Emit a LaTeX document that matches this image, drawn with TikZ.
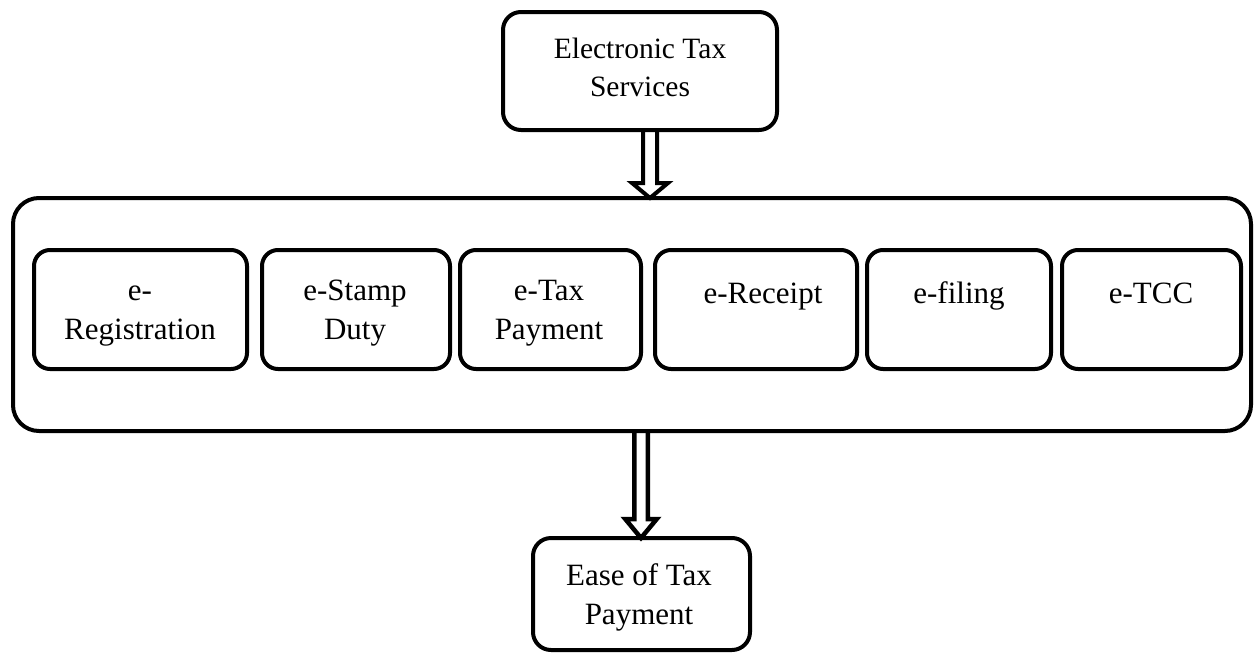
\documentclass[tikz,border=0pt]{standalone}
\usepackage{fontspec}
\setmainfont{Liberation Serif}
\usetikzlibrary{calc}
\begin{document}
\begin{tikzpicture}[x=1pt,y=-1pt,
  frame/.style={draw=black, line width=4pt, rounded corners=16pt, inner sep=0pt, outer sep=0pt},
  inbox/.style={frame, minimum height=119pt},
  txt/.style={align=center, inner sep=0pt, anchor=north, font=\fontsize{31}{39}\selectfont},
  hollow/.style={draw=black, line width=4pt, line join=miter}]
\useasboundingbox (0,0) rectangle (1254,654);

% outer container
\node[frame, rounded corners=26pt, minimum width=1238pt, minimum height=233pt] (big) at (632,314.5) {};

% top and bottom boxes
\node[frame, rounded corners=18pt, minimum width=274pt, minimum height=118pt] (top) at (640,71) {};
\node[txt, font=\fontsize{29.5}{38}\selectfont] (ttop) at (640,31.4) {\strut Electronic Tax\\Services};

\node[frame, rounded corners=18pt, minimum width=217pt, minimum height=112pt] (bot) at (641.5,594) {};
\node[txt] (tbot) at (639,557.7) {\strut Ease of Tax\\Payment};

% inner boxes
\node[inbox, minimum width=213pt] (b1) at (140.5,309.5) {};
\node[txt] (t1) at (140,272.7) {\strut e-\\Registration};
\node[inbox, minimum width=188pt] (b2) at (356,309.5) {};
\node[txt] (t2) at (355,272.7) {\strut e-Stamp\\Duty};
\node[inbox, minimum width=181pt] (b3) at (550.5,309.5) {};
\node[txt] (t3) at (549,272.7) {\strut e-Tax\\Payment};
\node[inbox, minimum width=202pt] (b4) at (756,309.5) {};
\node[txt] (t4) at (763,275.7) {\strut e-Receipt};
\node[inbox, minimum width=184pt] (b5) at (959,309.5) {};
\node[txt] (t5) at (959,275.7) {\strut e-filing};
\node[inbox, minimum width=179pt] (b6) at (1151.5,309.5) {};
\node[txt] (t6) at (1151,275.7) {\strut e-TCC};

% hollow block arrows
\draw[hollow] let \p1=(top.south), \p2=(big.north) in
  (\x1+3pt,\y1) -- (\x1+3pt,\y2+15pt) -- (\x1-8pt,\y2+15pt) -- (\x1+10pt,\y2)
  -- (\x1+28pt,\y2+15pt) -- (\x1+17pt,\y2+15pt) -- (\x1+17pt,\y1);
\draw[hollow, line width=4.5pt] let \p1=(big.south), \p2=(bot.north) in
  (\x2-7.25pt,\y1) -- (\x2-7.25pt,\y2+19pt) -- (\x2-16.25pt,\y2+19pt) -- (\x2-0.5pt,\y2)
  -- (\x2+15.25pt,\y2+19pt) -- (\x2+6.25pt,\y2+19pt) -- (\x2+6.25pt,\y1);
\end{tikzpicture}
\end{document}
